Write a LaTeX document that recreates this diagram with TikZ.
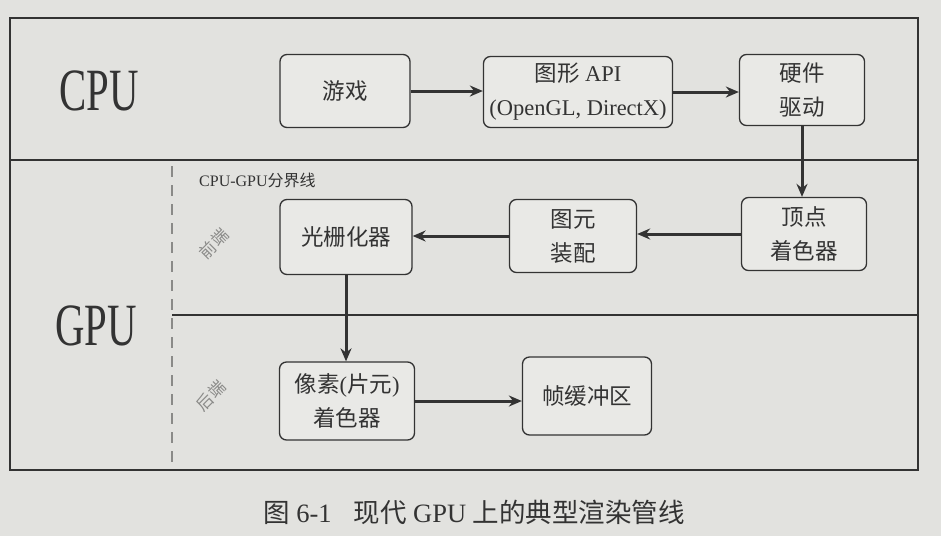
\documentclass[tikz,border=0pt]{standalone}
\usepackage{fontspec}
\setmainfont{Liberation Serif}
\newfontfamily\cjk{Noto Sans CJK SC}
\usetikzlibrary{arrows.meta}
\definecolor{paper}{HTML}{E2E2DF}
\definecolor{boxfill}{HTML}{E9E9E6}
\definecolor{ink}{HTML}{333333}
\definecolor{faint}{HTML}{8A8A88}
\begin{document}
\begin{tikzpicture}[x=1pt,y=-1pt,
  stage/.style={draw=ink, line width=1.3pt, rounded corners=7pt, fill=boxfill,
    align=center, text=ink, inner sep=0pt,
    font=\fontsize{22.5}{34}\selectfont},
  flow/.style={draw=ink, line width=3pt, -{Stealth[length=13pt,width=11pt]}},
  frame/.style={draw=ink, line width=1.6pt},
  unit/.style={text=ink, xscale=0.68, font=\fontsize{60}{60}\selectfont},
  side/.style={text=faint, rotate=45, inner sep=0pt, font=\cjk\fontsize{16.5}{17}\selectfont}]

\useasboundingbox[fill=paper] (0,0) rectangle (941,536);

% outer frame and section dividers
\draw[frame] (10,18) rectangle (918,470);
\draw[frame] (10,160) -- (918,160);
\draw[frame] (172,315) -- (918,315);
\draw[draw=faint, line width=1.6pt, dash pattern=on 11pt off 8pt] (172,166) -- (172,466);

% section labels
\node[unit] (cpu) at (99,91) {CPU};
\node[unit] (gpu) at (96,326) {GPU};
\node[anchor=west, text=ink, inner sep=0pt, font=\fontsize{16}{16}\selectfont] (border) at (199,180) {CPU-GPU{\cjk 分界线}};
\node[side] (front) at (214,244) {前\hspace{1.5pt}端};
\node[side] (back) at (211,396) {后\hspace{1.5pt}端};

% pipeline stages
\node[stage, minimum width=130pt, minimum height=73pt] (game) at (345,91) {\cjk 游戏};
\node[stage, minimum width=189pt, minimum height=71pt] (api) at (578,92) {{\cjk 图形} API\\(OpenGL, DirectX)};
\node[stage, minimum width=125pt, minimum height=71pt] (driver) at (802,90) {\cjk 硬件\\\cjk 驱动};
\node[stage, minimum width=125pt, minimum height=73pt] (vertex) at (804,234) {\cjk 顶点\\\cjk 着色器};
\node[stage, minimum width=127pt, minimum height=73pt] (prim) at (573,236) {\cjk 图元\\\cjk 装配};
\node[stage, minimum width=132pt, minimum height=75pt] (raster) at (346,237) {\cjk 光栅化器};
\node[stage, minimum width=135pt, minimum height=78pt] (pixel) at (347,401) {{\cjk 像素}({\cjk 片元})\\\cjk 着色器};
\node[stage, minimum width=129pt, minimum height=78pt] (fb) at (587,396) {\cjk 帧缓冲区};

% data flow
\draw[flow] (game.east) -- (api.west |- game.east);
\draw[flow] (api.east) -- (driver.west |- api.east);
\draw[flow] (driver.south) -- (driver.south |- vertex.north);
\draw[flow] (vertex.west) -- (prim.east |- vertex.west);
\draw[flow] (prim.west) -- (raster.east |- prim.west);
\draw[flow] (raster.south) -- (raster.south |- pixel.north);
\draw[flow] (pixel.east) -- (fb.west |- pixel.east);

% caption
\node[text=ink, font=\fontsize{26.5}{27}\selectfont] (caption) at (474,512)
  {{\cjk 图} 6-1\hspace{22pt}{\cjk 现代} GPU {\cjk 上的典型渲染管线}};
\end{tikzpicture}
\end{document}
